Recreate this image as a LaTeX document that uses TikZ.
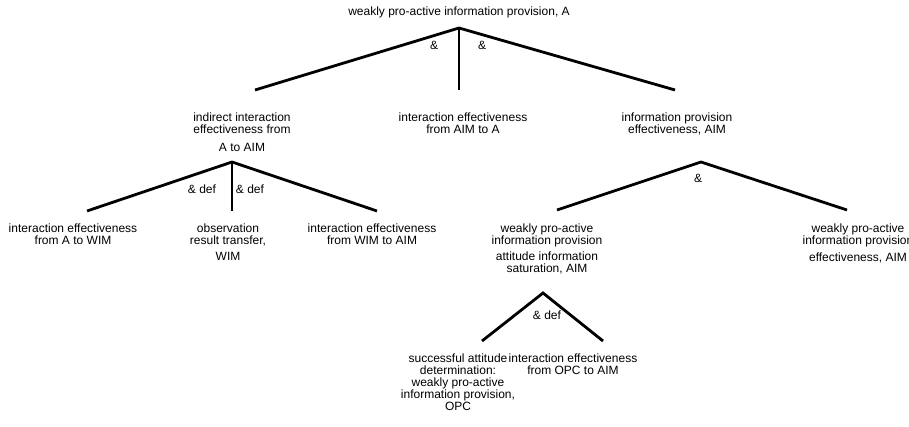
\documentclass[tikz,border=0pt]{standalone}
\usepackage{fontspec}
\setmainfont{Liberation Sans}
\begin{document}
\begin{tikzpicture}[x=1pt,y=-1pt,
  lbl/.style={align=center,inner sep=0pt,anchor=north,font=\fontsize{12}{12}\selectfont},
  conn/.style={line width=2.8pt,line join=miter},
  op/.style={inner sep=0pt,font=\fontsize{12}{12}\selectfont}]
\useasboundingbox (0,0) rectangle (909,427);

% top level
\node[lbl] (top) at (459,7) {weakly pro-active information provision, A};
\coordinate (a0) at (459,28);
\coordinate (a1) at (255,90);
\coordinate (a2) at (459,90);
\coordinate (a3) at (675,90);
\draw[conn] (a1) -- (a0) -- (a3);
\draw[conn] (a0) -- (a2);
\node[op] (and1) at (434,45) {\&};
\node[op] (and2) at (482,45) {\&};

\node[lbl] (iie) at (242,113) {indirect interaction\\effectiveness from\\[6pt]A to AIM};
\node[lbl] (ieaa) at (463,113) {interaction effectiveness\\from AIM to A};
\node[lbl] (ipe) at (677,113) {information provision\\effectiveness, AIM};

% left subtree
\coordinate (b0) at (232,162);
\coordinate (b1) at (87,211);
\coordinate (b2) at (232,211);
\coordinate (b3) at (377,211);
\draw[conn] (b1) -- (b0) -- (b3);
\draw[conn] (b0) -- (b2);
\node[op] (def1) at (202,189) {\& def};
\node[op] (def2) at (250,189) {\& def};

\node[lbl] (ieaw) at (73,224) {interaction effectiveness\\from A to WIM};
\node[lbl] (ort) at (228,224) {observation\\result transfer,\\[4pt]WIM};
\node[lbl] (iewa) at (372,224) {interaction effectiveness\\from WIM to AIM};

% right subtree
\coordinate (c0) at (701,162);
\coordinate (c1) at (557,210);
\coordinate (c3) at (847,210);
\draw[conn] (c1) -- (c0) -- (c3);
\node[op] (and3) at (698,178) {\&};

\node[lbl] (wpas) at (547,224) {weakly pro-active\\information provision\\[4pt]attitude information\\saturation, AIM};
\node[lbl] (wpae) at (858,224) {weakly pro-active\\information provision\\[5pt]effectiveness, AIM};

% bottom subtree
\coordinate (d0) at (543,293);
\coordinate (d1) at (482,341);
\coordinate (d3) at (603,341);
\draw[conn] (d1) -- (d0) -- (d3);
\node[op] (def3) at (547,315) {\& def};

\node[lbl] (sad) at (458,354) {successful attitude\\determination:\\weakly pro-active\\information provision,\\OPC};
\node[lbl] (ieoa) at (573,354) {interaction effectiveness\\from OPC to AIM};
\end{tikzpicture}
\end{document}
